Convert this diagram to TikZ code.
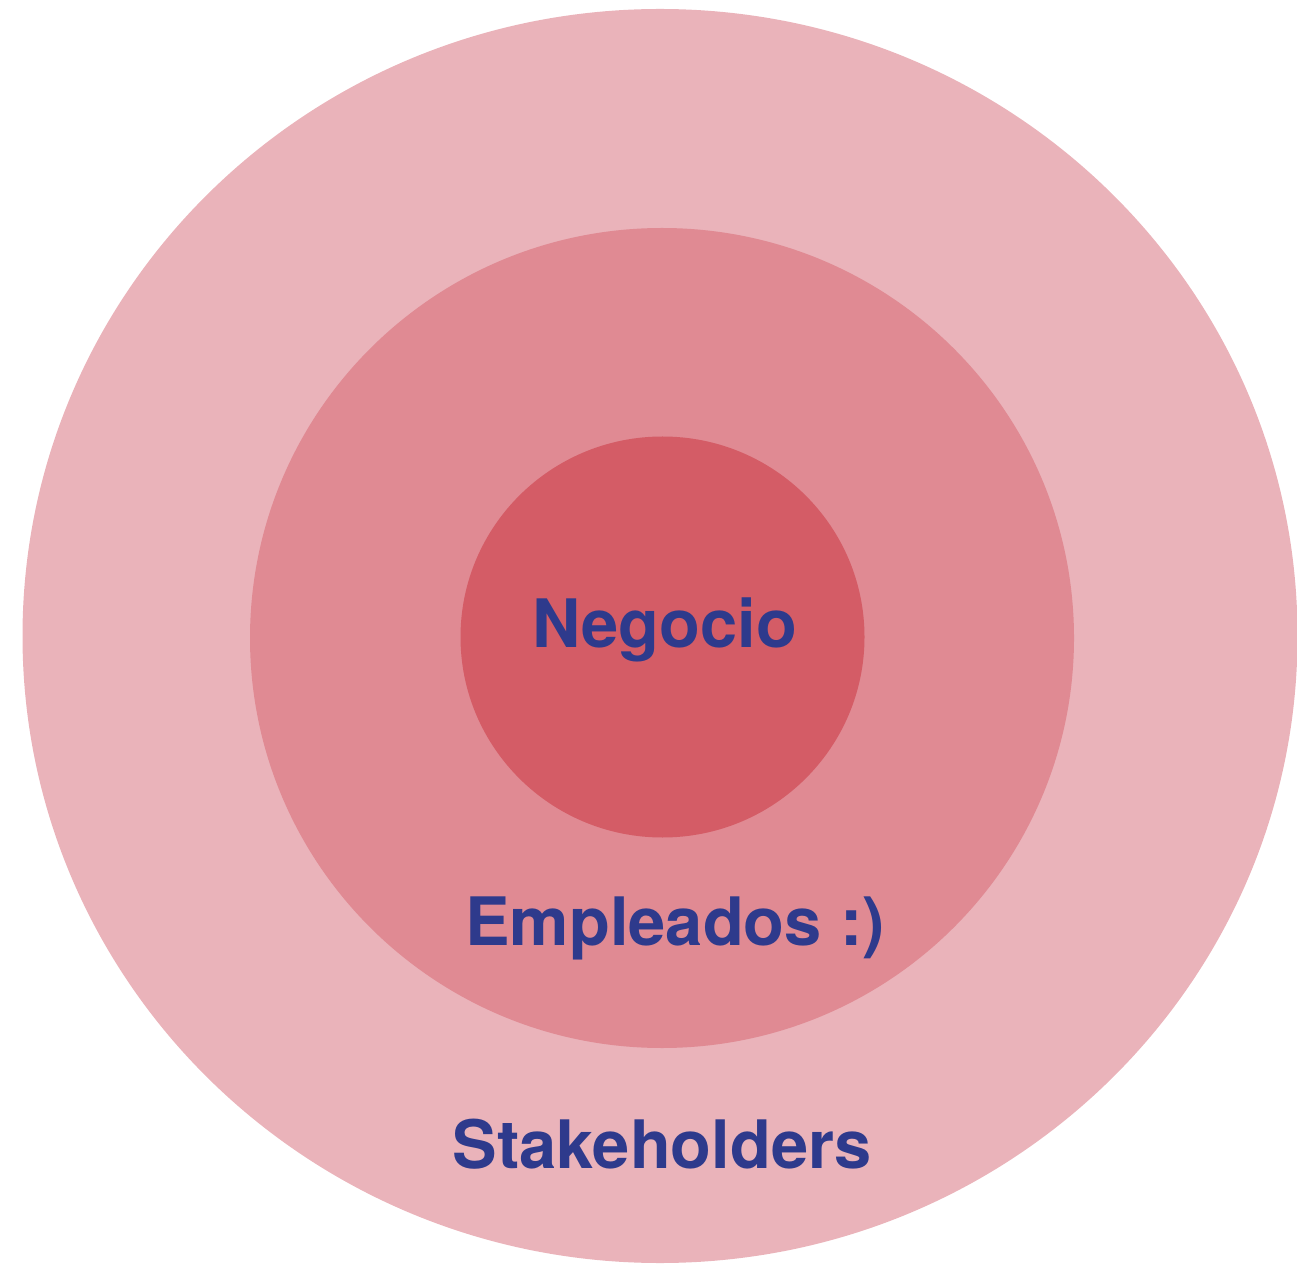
\documentclass[tikz,border=0pt]{standalone}
\usepackage{fontspec}
\setmainfont{TeX Gyre Heros}
\usepackage{tikz}
\usetikzlibrary{positioning,shapes.geometric}
\definecolor{ringout}{HTML}{EAB3BA}
\definecolor{ringmid}{HTML}{E08A93}
\definecolor{ringin}{HTML}{D45C66}
\definecolor{labelblue}{HTML}{2E3A8C}

\begin{document}
\begin{tikzpicture}[ring/.style={ellipse,inner sep=0pt},
                    lbl/.style={text=labelblue,font=\fontsize{19}{22}\selectfont\bfseries,anchor=base}]
        \useasboundingbox (0,0) rectangle (12.97,12.67);
        % rings, outside in
        \node[ring,fill=ringout,minimum width=12.75cm,minimum height=12.54cm] (stake) at (6.60,6.31) {};
        \node[ring,fill=ringmid,minimum width=8.24cm,minimum height=8.20cm] (emp) at (6.62,6.29) {};
        \node[ring,fill=ringin,minimum width=4.04cm,minimum height=4.01cm] (neg) at (6.625,6.30) {};

        \node[lbl] (negtxt) at (6.645,12.67-6.48) {Negocio};
        \node[lbl] (emptxt) at (6.75,12.67-9.45) {Empleados :)};
        \node[lbl] (staketxt) at (6.62,12.67-11.68) {Stakeholders};
    \end{tikzpicture}
\end{document}
